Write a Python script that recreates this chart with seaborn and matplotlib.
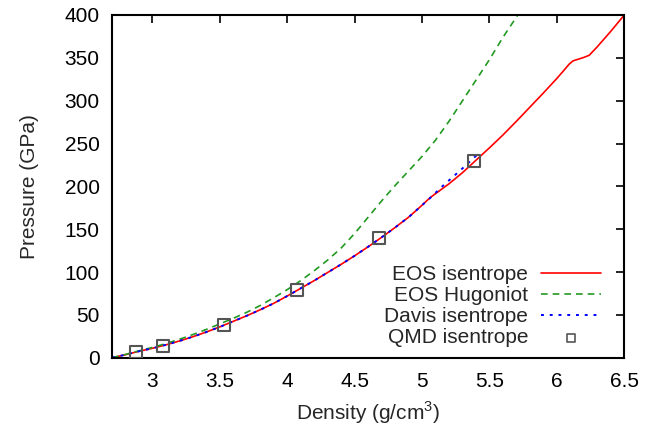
import matplotlib
matplotlib.use("Agg")
import matplotlib.pyplot as plt
import seaborn as sns
import pandas as pd

# EOS isentrope
eos_isen_rho = [2.70, 2.80, 2.90, 3.00, 3.10, 3.20, 3.30, 3.40, 3.50, 3.60, 3.70, 3.80, 3.90,
                4.00, 4.10, 4.20, 4.30, 4.40, 4.50, 4.60, 4.70, 4.80, 4.90, 5.00, 5.04, 5.07,
                5.10, 5.20, 5.30, 5.40, 5.50, 5.60, 5.70, 5.80, 5.90, 6.00, 6.05, 6.09, 6.12,
                6.16, 6.20, 6.24, 6.30, 6.40, 6.50]
eos_isen_p = [0, 3.5, 7.5, 11, 15, 19.5, 24.5, 30, 36, 42.5, 49, 56, 63.5,
              72, 81, 90, 99.5, 109, 119, 129.5, 140.5, 152, 164, 178, 184, 188,
              191.5, 203, 216, 230.5, 245, 260, 276, 292.5, 309, 326, 335, 342.5, 346.5,
              348.5, 350.5, 353, 363, 381, 400]

# EOS Hugoniot
eos_hug_rho = [2.70, 2.80, 2.90, 3.00, 3.10, 3.20, 3.30, 3.40, 3.50, 3.60, 3.70, 3.80, 3.90,
               4.00, 4.10, 4.20, 4.30, 4.40, 4.50, 4.60, 4.70, 4.80, 4.90, 5.00, 5.10, 5.20,
               5.30, 5.40, 5.50, 5.60, 5.71]
eos_hug_p = [0, 3.8, 8, 12, 16.5, 21.5, 27, 33, 39.5, 46, 53, 61, 70,
             79.5, 90, 101.5, 114, 128, 145, 164, 183, 201, 218, 235, 254, 276,
             300, 324, 348, 374, 400]

# Davis isentrope
davis_rho = [2.70, 2.80, 2.90, 3.00, 3.10, 3.20, 3.30, 3.40, 3.50, 3.60, 3.70, 3.80, 3.90,
             4.00, 4.10, 4.20, 4.30, 4.40, 4.50, 4.60, 4.70, 4.80, 4.90, 5.00, 5.05, 5.10,
             5.15, 5.20, 5.30, 5.42]
davis_p = [0, 3.5, 7.5, 11, 15, 19.5, 24.5, 30, 36, 42.5, 49, 56, 63.5,
           72, 81, 90, 99.5, 109, 119, 129.5, 140.5, 152, 164, 178, 185, 192.5,
           200, 207, 221, 238.5]

# QMD isentrope
qmd_rho = [2.876, 3.079, 3.532, 4.072, 4.684, 5.387]
qmd_p = [7, 13.7, 38.2, 79, 139.3, 229.5]

x_ticks = [3, 3.5, 4, 4.5, 5, 5.5, 6, 6.5]
x_tick_labels = ["3", "3.5", "4", "4.5", "5", "5.5", "6", "6.5"]
y_ticks = [0, 50, 100, 150, 200, 250, 300, 350, 400]

sns.set_style("white")
plt.rcParams["font.family"] = ["Liberation Sans", "DejaVu Sans"]
plt.rcParams["mathtext.fontset"] = "custom"
plt.rcParams["mathtext.rm"] = "Liberation Sans"

FS = 15

fig = plt.figure(figsize=(6.57, 4.26), dpi=100)
ax = fig.add_axes([112 / 657, 1 - 357.7 / 426, (624.3 - 112) / 657, (357.7 - 15) / 426])

df_isen = pd.DataFrame({"rho": eos_isen_rho, "p": eos_isen_p})
df_hug = pd.DataFrame({"rho": eos_hug_rho, "p": eos_hug_p})
df_dav = pd.DataFrame({"rho": davis_rho, "p": davis_p})
df_qmd = pd.DataFrame({"rho": qmd_rho, "p": qmd_p})

sns.lineplot(data=df_isen, x="rho", y="p", ax=ax, color="#ff0000", lw=1.2,
             label="EOS isentrope", sort=False)
sns.lineplot(data=df_hug, x="rho", y="p", ax=ax, color="#229922", lw=1.2,
             linestyle=(0, (4, 3)), label="EOS Hugoniot", sort=False)
sns.lineplot(data=df_dav, x="rho", y="p", ax=ax, color="#0000ff", lw=1.4,
             linestyle=(0, (1.5, 3)), label="Davis isentrope", sort=False)
sns.scatterplot(data=df_qmd, x="rho", y="p", ax=ax, marker="s", s=75,
                facecolor="none", edgecolor="#555555", linewidth=1.5,
                label="QMD isentrope", zorder=5)

ax.set_xlim(2.7, 6.5)
ax.set_ylim(0, 400)
ax.set_xticks(x_ticks)
ax.set_xticklabels(x_tick_labels)
ax.set_yticks(y_ticks)
ax.tick_params(direction="in", length=6, width=1.2, labelsize=FS, pad=9,
               top=True, right=True, colors="black")
ax.tick_params(axis="x", pad=10)
for s in ax.spines.values():
    s.set_linewidth(1.5)
    s.set_color("black")

ax.set_xlabel("Density (g/cm$^3$)", fontsize=FS, labelpad=6)
ax.set_ylabel("Pressure (GPa)", fontsize=FS, labelpad=18)

leg = ax.legend(loc="lower right", frameon=False, markerfirst=False, fontsize=FS,
                handlelength=2.9, handletextpad=0.6, labelspacing=0.1,
                borderaxespad=0.1, bbox_to_anchor=(0.975, 0.0))
for t in leg.get_texts():
    t.set_ha("right")
h = leg.legend_handles[3]
try:
    h.set_sizes([30])
    h.set_linewidths([1.2])
except Exception:
    pass

fig.savefig("out.png", dpi=100)
